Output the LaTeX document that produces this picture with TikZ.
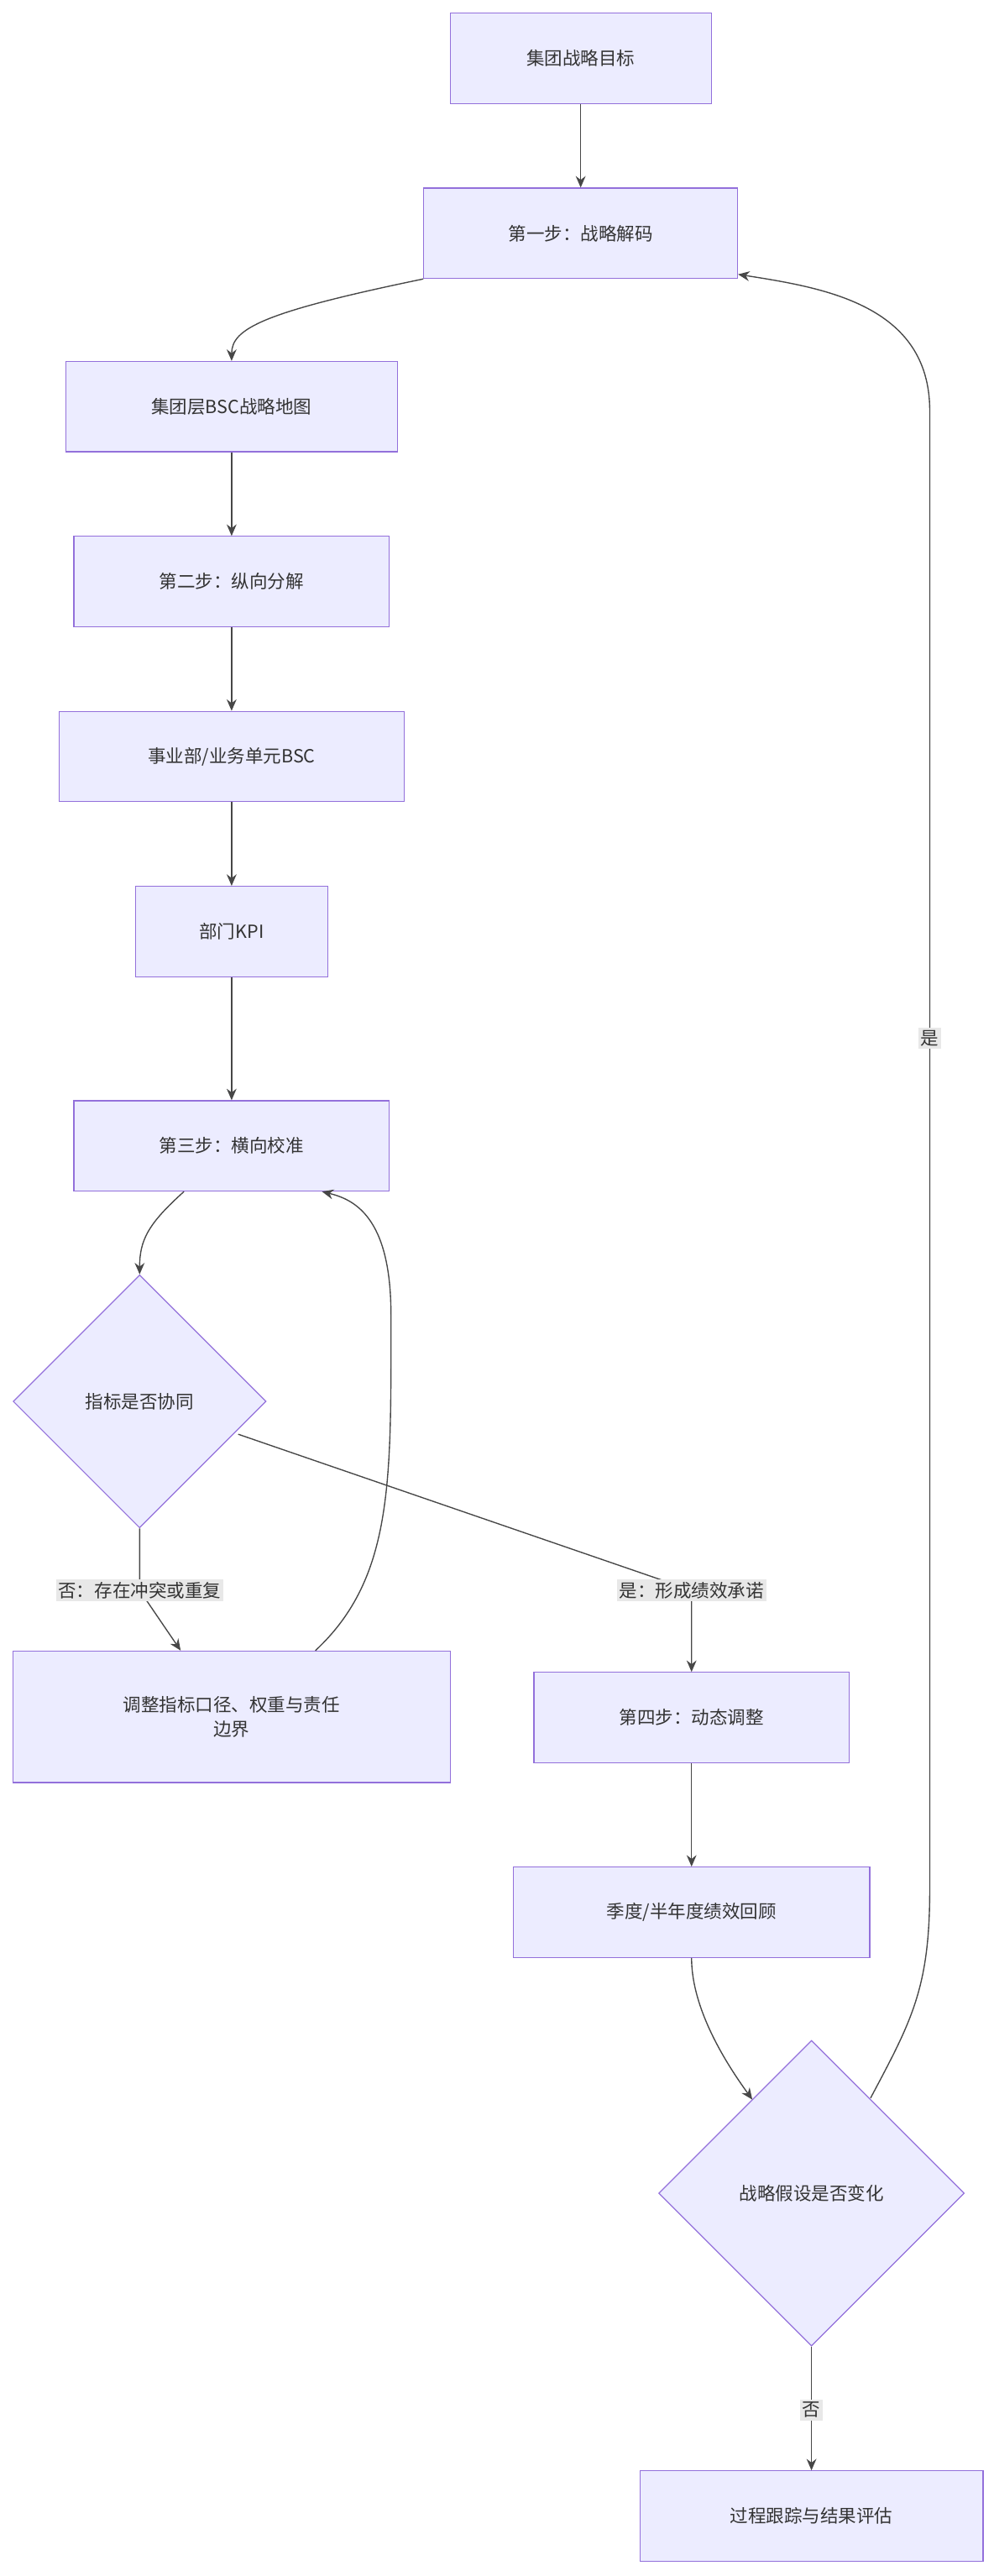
\documentclass[tikz,border=0pt]{standalone}
\usepackage{fontspec}
\setmainfont{Noto Sans CJK SC}
\usetikzlibrary{shapes.geometric,arrows.meta}
\definecolor{nfill}{HTML}{ECECFF}
\definecolor{nline}{HTML}{9370DB}
\definecolor{ntext}{HTML}{333333}
\definecolor{lbl}{HTML}{E8E8E8}
\begin{document}
\begin{tikzpicture}[x=1pt,y=-1pt,
  box/.style={draw=nline,fill=nfill,text=ntext,line width=0.6pt,inner sep=0pt,font=\fontsize{11}{15}\selectfont,align=center},
  dia/.style={draw=nline,fill=nfill,text=ntext,line width=0.6pt,diamond,inner sep=0pt,font=\fontsize{11}{15}\selectfont},
  conn/.style={draw=ntext!90,line width=0.7pt,-{Stealth[length=7pt,width=6pt]}},
  elab/.style={fill=lbl,text=ntext,inner sep=1.5pt,font=\fontsize{11}{15}\selectfont}]
\useasboundingbox (0,0) rectangle (605,1568);
\node[box,minimum width=159,minimum height=55] (n1) at (353.5,35.5) {集团战略目标};
\node[box,minimum width=191,minimum height=55] (n2) at (353.5,142) {第一步：战略解码};
\node[box,minimum width=202,minimum height=55] (n3) at (141,247.5) {集团层BSC战略地图};
\node[box,minimum width=192,minimum height=55] (n4) at (141,354) {第二步：纵向分解};
\node[box,minimum width=210,minimum height=55] (n5) at (141,460.5) {事业部/业务单元BSC};
\node[box,minimum width=117,minimum height=55] (n6) at (141,567) {部门KPI};
\node[box,minimum width=192,minimum height=55] (n7) at (141,697.5) {第三步：横向校准};
\node[dia,minimum width=154,minimum height=154] (d1) at (85,853) {指标是否协同};
\node[box,minimum width=266,minimum height=80] (n8) at (141,1045) {调整指标口径、权重与责任\\边界};
\node[box,minimum width=192,minimum height=55] (n9) at (421,1045.5) {第四步：动态调整};
\node[box,minimum width=217,minimum height=55] (n10) at (421,1164) {季度/半年度绩效回顾};
\node[dia,minimum width=186,minimum height=186] (d2) at (494,1335) {战略假设是否变化};
\node[box,minimum width=209,minimum height=55] (n11) at (494,1531.5) {过程跟踪与结果评估};

\draw[conn] (n1) -- (n2);
\draw[conn] (n2.south west) .. controls (160,190) and (141,200) .. (n3.north);
\draw[conn] (n3) -- (n4);
\draw[conn] (n4) -- (n5);
\draw[conn] (n5) -- (n6);
\draw[conn] (n6) -- (n7);
\draw[conn] ([xshift=-29]n7.south) .. controls (90,745) and (85,755) .. (d1.north);
\draw[conn] (d1.south) -- (85,968) -- ([xshift=-31]n8.north);
\node[elab] (l1) at (85,968) {否：存在冲突或重复};
\draw[conn] ([xshift=51]n8.north) .. controls (240,960) and (238,900) .. (238,800) .. controls (238,740) and (215,730) .. ([xshift=55]n7.south);
\draw[conn] (145,873) -- (421,968) .. controls (421,985) and (421,1000) .. (n9.north);
\node[elab] (l2) at (421,968) {是：形成绩效承诺};
\draw[conn] (n9) -- (n10);
\draw[conn] (n10.south) .. controls (421,1225) and (445,1260) .. (458,1278);
\draw[conn] (530,1277) .. controls (555,1230) and (566,1210) .. (566,1150) -- (566,250) .. controls (566,185) and (500,175) .. (n2.east |- 0,167);
\node[elab] (l3) at (566,632) {是};
\draw[conn] (d2.south) -- (n11.north);
\node[elab] (l4) at (494,1467) {否};
\end{tikzpicture}
\end{document}
